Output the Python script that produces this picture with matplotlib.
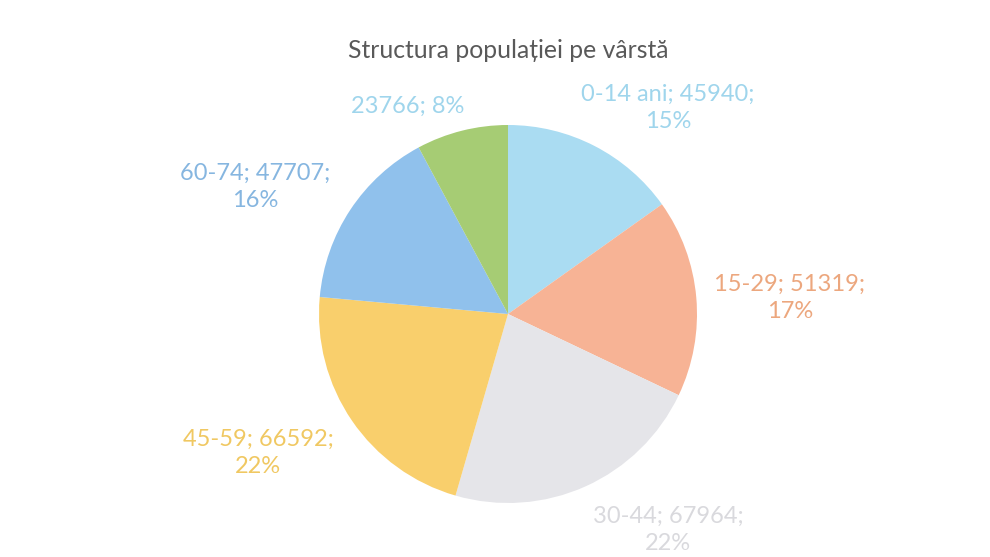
import matplotlib.pyplot as plt
import numpy as np

groups = ['0-14 ani', '15-29', '30-44', '45-59', '60-74', '']
values = [45940, 51319, 67964, 66592, 47707, 23766]
percents = ['15%', '17%', '22%', '22%', '16%', '8%']
colors = ['#aadcf2', '#f7b395', '#e5e5e9', '#f9cf6c', '#90c1ec', '#a6cc74']
label_colors = ['#9fd5ec', '#eca77e', '#d9d9dd', '#f0c862', '#86b6e0', '#9fd5ec']

W, H = 990, 557
fig = plt.figure(figsize=(W / 100, H / 100), dpi=100)
ax = fig.add_axes([0, 0, 1, 1])

ax.pie(values, colors=colors, startangle=90, counterclock=False,
       center=(508, H - 314), radius=189, frame=True,
       wedgeprops=dict(linewidth=0))
ax.set_xlim(0, W)
ax.set_ylim(0, H)
ax.set_aspect('equal')
ax.axis('off')

ax.text(508, H - 50, 'Structura populației pe vârstă', ha='center', va='center',
        fontsize=17.8, color='#595959', family='Lato')

# label centres in pixels (x, y from top)
label_pos = [(668, 108), (790, 298), (668, 530), (258, 453), (255, 187), (408, 106)]
for g, v, p, c, (x, y) in zip(groups, values, percents, label_colors, label_pos):
    if g:
        txt = f'{g}; {v};\n{p}'
    else:
        txt = f'{v}; {p}'
    ax.text(x, H - y, txt, ha='center', va='center', fontsize=17,
            color=c, family='Lato', linespacing=1.4)

fig.savefig('out.png', dpi=100, facecolor='white')
